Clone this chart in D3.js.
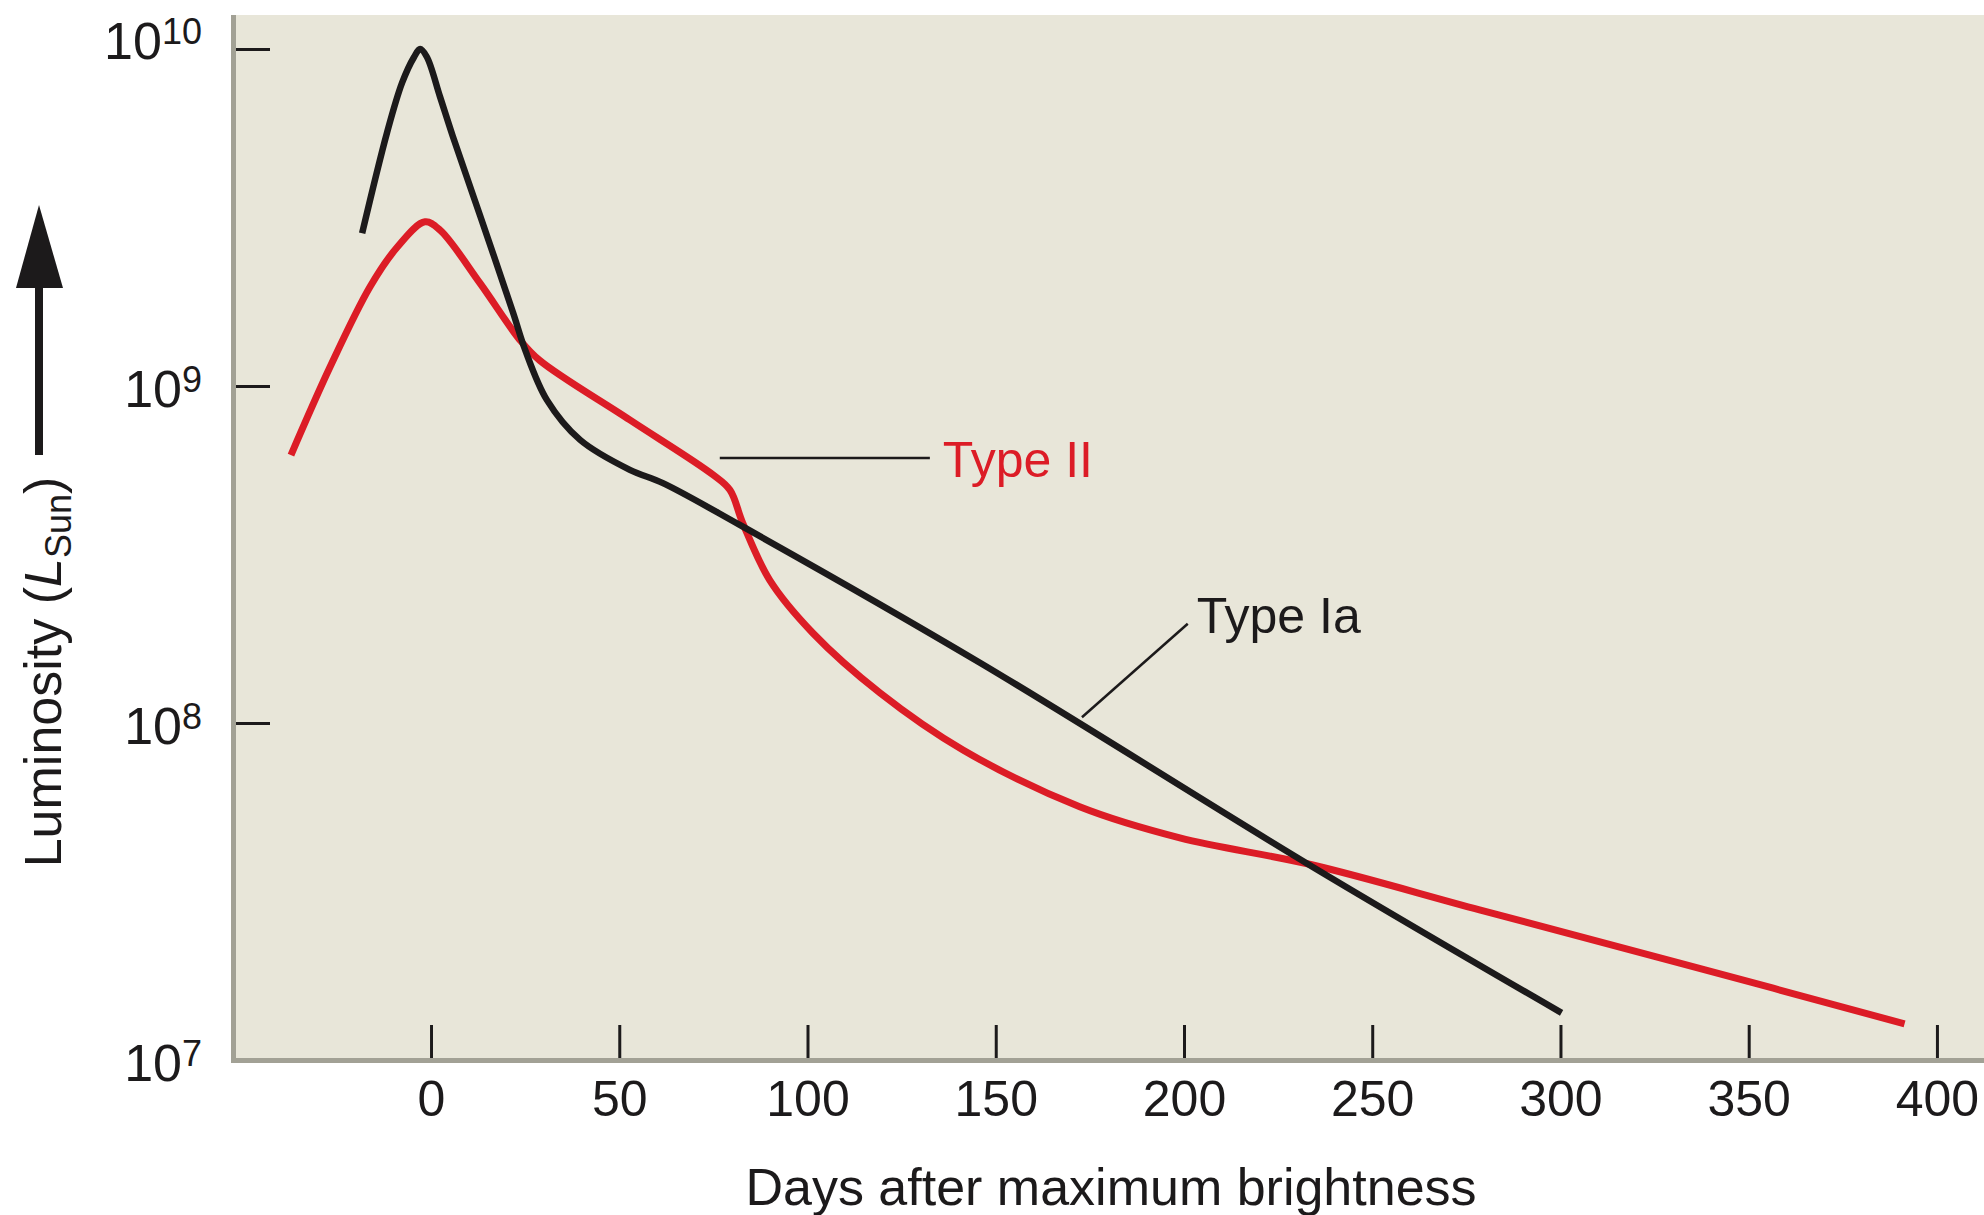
<!DOCTYPE html>
<html>
<head>
<meta charset="utf-8">
<script src="https://cdn.jsdelivr.net/npm/d3@7"></script>
<style>
  html, body { margin: 0; padding: 0; background: #fff; }
  svg { display: block; font-family: "Liberation Sans", Arial, Helvetica, sans-serif; }
</style>
</head>
<body>
<div id="chart"></div>
<script>
// light curves (days after max, luminosity in L_sun)
const typeIaDays = [-18.3, -11.7, -7.7, -4.5, -2.9, -1.1, 2.4, 5.8, 13.0, 21.8, 25.0, 30.8, 39.6, 52.8, 61.6, 82.0, 145.8, 234.2, 300.3];
const typeIaLum = [2.84e9, 5.64e9, 7.93e9, 9.47e9, 1.0e10, 9.47e9, 7.21e9, 5.50e9, 3.21e9, 1.65e9, 1.28e9, 9.08e8, 6.92e8, 5.64e8, 5.15e8, 3.87e8, 1.51e8, 3.74e7, 1.38e7];

const typeIIDays = [-37.2, -26.8, -16.2, -9.0, -1.6, 2.4, 13.0, 23.6, 28.9, 52.8, 74.9, 79.4, 82.8, 90.0, 101.4, 119.2, 141.3, 172.3, 198.9, 234.2, 278.5, 331.7, 391.4];
const typeIILum = [6.24e8, 1.14e9, 1.97e9, 2.58e9, 3.07e9, 2.90e9, 2.02e9, 1.37e9, 1.19e9, 7.93e8, 5.45e8, 4.91e8, 3.92e8, 2.65e8, 1.85e8, 1.23e8, 8.32e7, 5.64e7, 4.56e7, 3.79e7, 2.79e7, 1.94e7, 1.28e7];

const dayTicks = [0, 50, 100, 150, 200, 250, 300, 350, 400];
const lumTicks = [1e7, 1e8, 1e9, 1e10];
const lumExponents = ['7', '8', '9', '10'];

// callouts: leader line ends in data units
const seriesNames = ['Type Ia', 'Type II'];
const leaderDays = [[172.9, 201.0], [76.7, 132.5]];
const leaderLum = [[1.04e8, 1.97e8], [6.11e8, 6.11e8]];

const width = 1984;
const height = 1215;
const plot = { left: 233, top: 15, right: 1984, bottom: 1060 };

const red = '#dc1c26';
const ink = '#1c1a1b';
const axisGray = '#a2a195';

const svg = d3.select('#chart')
  .append('svg')
  .attr('width', width)
  .attr('height', height);

const x = d3.scaleLinear()
  .domain([-52.6, 412.5])
  .range([plot.left, plot.right]);

const y = d3.scaleLog()
  .domain([1e7, 1e10])
  .range([plot.bottom, 49]);

// plot background
svg.append('rect')
  .attr('x', plot.left)
  .attr('y', plot.top)
  .attr('width', plot.right - plot.left)
  .attr('height', plot.bottom - plot.top)
  .attr('fill', '#e8e6d9');

// gray frame lines
svg.append('rect')
  .attr('x', plot.left - 2)
  .attr('y', plot.top)
  .attr('width', 5)
  .attr('height', plot.bottom - plot.top + 3)
  .attr('fill', axisGray);

svg.append('rect')
  .attr('x', plot.left - 2)
  .attr('y', plot.bottom - 2)
  .attr('width', plot.right - plot.left + 2)
  .attr('height', 5)
  .attr('fill', axisGray);

// x axis, ticks pointing inward
const xAxis = svg.append('g')
  .attr('transform', `translate(0,${plot.bottom - 2})`)
  .call(d3.axisBottom(x)
    .tickValues(dayTicks)
    .tickSizeInner(-33)
    .tickSizeOuter(0)
    .tickPadding(22));

xAxis.select('.domain').remove();
xAxis.attr('font-family', null);
xAxis.selectAll('line').attr('stroke', ink).attr('stroke-width', 3);
xAxis.selectAll('text')
  .attr('font-size', 50)
  .attr('fill', ink);

// y axis (log), labels as powers of ten
const yAxis = svg.append('g')
  .attr('transform', `translate(${plot.left + 3},0)`)
  .call(d3.axisLeft(y)
    .tickValues(lumTicks)
    .tickSizeInner(-34)
    .tickSizeOuter(0)
    .tickPadding(34));

yAxis.select('.domain').remove();
yAxis.attr('font-family', null);
yAxis.selectAll('line')
  .attr('stroke', ink)
  .attr('stroke-width', 3)
  .attr('display', d => d === 1e7 ? 'none' : null);

yAxis.selectAll('text')
  .attr('font-size', 52)
  .attr('fill', ink)
  .attr('dy', d => d === 1e10 ? '0.19em' : '0.39em')
  .each(function(d) {
    const i = lumTicks.indexOf(d);
    const t = d3.select(this).text(null);
    t.append('tspan').text('10');
    t.append('tspan')
      .attr('font-size', 36)
      .attr('dy', -15)
      .text(lumExponents[i]);
  });

// curves
const line = d3.line()
  .x(d => x(d[0]))
  .y(d => y(d[1]))
  .curve(d3.curveCatmullRom.alpha(0.5));

svg.append('path')
  .datum(d3.zip(typeIIDays, typeIILum))
  .attr('fill', 'none')
  .attr('stroke', red)
  .attr('stroke-width', 7)
  .attr('stroke-linejoin', 'round')
  .attr('d', line);

svg.append('path')
  .datum(d3.zip(typeIaDays, typeIaLum))
  .attr('fill', 'none')
  .attr('stroke', ink)
  .attr('stroke-width', 6.5)
  .attr('stroke-linejoin', 'round')
  .attr('d', line);

// callout leaders and labels
seriesNames.forEach((name, i) => {
  const [d0, d1] = leaderDays[i];
  const [l0, l1] = leaderLum[i];
  svg.append('line')
    .attr('x1', x(d0)).attr('y1', y(l0))
    .attr('x2', x(d1)).attr('y2', y(l1))
    .attr('stroke', ink)
    .attr('stroke-width', 2.5);

  svg.append('text')
    .attr('x', x(d1) + (i === 0 ? 9 : 13))
    .attr('y', y(l1) + (i === 0 ? 9 : 19))
    .attr('font-size', 50)
    .attr('fill', i === 0 ? ink : red)
    .text(name);
});

// axis titles
svg.append('text')
  .attr('x', 1111)
  .attr('y', 1205)
  .attr('text-anchor', 'middle')
  .attr('font-size', 52)
  .attr('fill', ink)
  .text('Days after maximum brightness');

const yTitle = svg.append('text')
  .attr('transform', 'translate(61,672) rotate(-90)')
  .attr('text-anchor', 'middle')
  .attr('font-size', 52)
  .attr('fill', ink);
yTitle.append('tspan').text('Luminosity (');
yTitle.append('tspan').attr('font-style', 'italic').text('L');
yTitle.append('tspan').attr('font-size', 36).attr('dy', 10).text('Sun');
yTitle.append('tspan').attr('dy', -10).text(')');

// upward arrow beside the y title
svg.append('line')
  .attr('x1', 39).attr('y1', 455)
  .attr('x2', 39).attr('y2', 280)
  .attr('stroke', ink)
  .attr('stroke-width', 8);

svg.append('path')
  .attr('d', 'M39,205 L63,288 L16,288 Z')
  .attr('fill', ink);
</script>
</body>
</html>
